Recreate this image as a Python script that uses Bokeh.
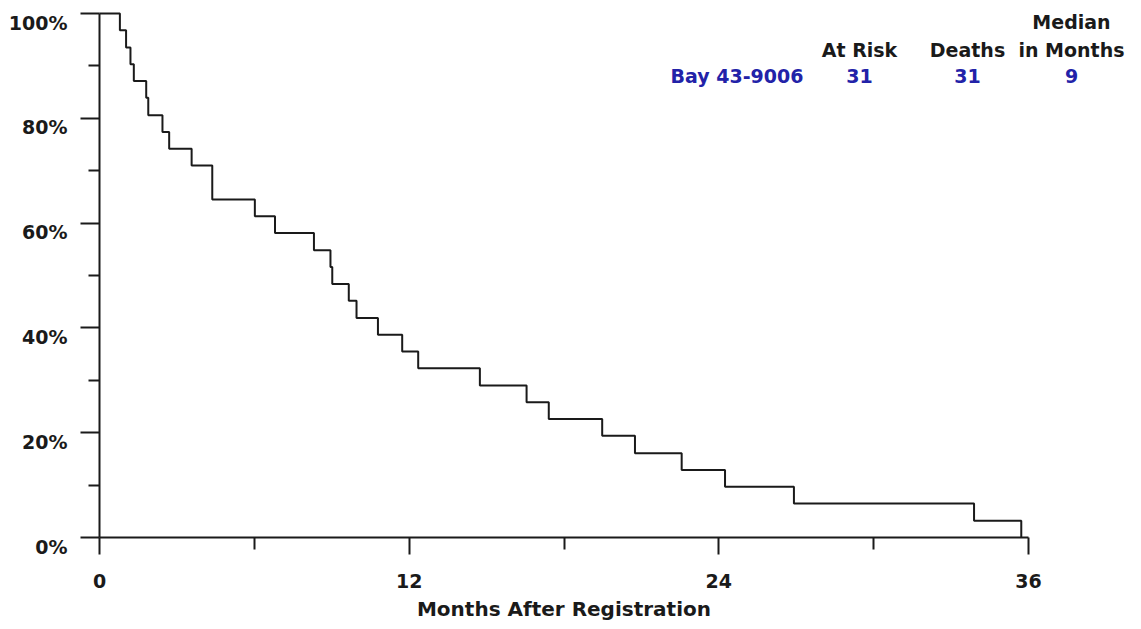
from bokeh.plotting import figure
from bokeh.models import Range1d, FixedTicker, Label, CustomJSTickFormatter
from bokeh.embed import file_html
from bokeh.resources import INLINE

# ---- data (Kaplan-Meier estimate, n = 31) ----
months = [0, 0.79, 1.03, 1.20, 1.33, 1.81, 1.89, 2.44, 2.70, 3.57,
          4.37, 6.02, 6.80, 8.31, 8.95, 9.02, 9.66, 9.96, 10.79, 11.73,
          12.35, 14.74, 16.55, 17.41, 19.48, 20.75, 22.56, 24.24, 26.91, 33.89,
          35.72]
survival = [100, 96.8, 93.5, 90.3, 87.1, 83.9, 80.6, 77.4, 74.2, 71.0,
            64.5, 61.3, 58.1, 54.8, 51.6, 48.4, 45.2, 41.9, 38.7, 35.5,
            32.3, 29.0, 25.8, 22.6, 19.4, 16.1, 12.9, 9.7, 6.5, 3.2,
            0]

x_major = [0, 12, 24, 36]
x_minor = [6, 18, 30]
y_major = [0, 20, 40, 60, 80, 100]
y_minor = [10, 30, 50, 70, 90]
y_labels = ["0%", "20%", "40%", "60%", "80%", "100%"]

header_top = ["", "", "Median"]
header_bottom = ["At Risk", "Deaths", "in Months"]
group_name = "Bay 43-9006"
group_values = ["31", "31", "9"]

FONT = "DejaVu Sans"
INK = "#1a1a1a"
BLUE = "#2222a8"

# ---- layout: pixel positions of the data box on the canvas ----
W, H = 1132, 624
PX_X0, PX_X36 = 99, 1028
PY_Y0, PY_Y100 = 537, 13
ppm = (PX_X36 - PX_X0) / 36.0
ppp = (PY_Y0 - PY_Y100) / 100.0
x_start = -PX_X0 / ppm
x_end = (W - PX_X0) / ppm
y_end = 100 + PY_Y100 / ppp
y_start = -(H - PY_Y0) / ppp

def dx(px):
    return (px - PX_X0) / ppm

def dy(py):
    return (PY_Y0 - py) / ppp

p = figure(width=W, height=H, output_backend="svg", toolbar_location=None,
           x_range=Range1d(x_start, x_end), y_range=Range1d(y_start, y_end),
           min_border=0)
p.outline_line_color = None
p.grid.visible = False
p.background_fill_color = "white"
p.border_fill_color = "white"

p.step(months, survival, mode="after", line_width=2, line_color=INK)

# x axis
xa = p.xaxis[0]
xa.fixed_location = 0
xa.bounds = (0, 36)
xa.ticker = FixedTicker(ticks=x_major, minor_ticks=x_minor)
xa.axis_line_width = 2
xa.axis_line_color = INK
xa.major_tick_line_width = 2
xa.major_tick_line_color = INK
xa.minor_tick_line_width = 2
xa.minor_tick_line_color = INK
xa.major_tick_in = 0
xa.major_tick_out = 17
xa.minor_tick_in = 0
xa.minor_tick_out = 12
xa.major_label_text_font = FONT
xa.major_label_text_font_style = "bold"
xa.major_label_text_font_size = "19px"
xa.major_label_text_color = INK
xa.major_label_standoff = 19
xa.axis_label = "Months After Registration"
xa.axis_label_text_font = FONT
xa.axis_label_text_font_style = "bold"
xa.axis_label_text_font_size = "20px"
xa.axis_label_text_color = INK
xa.axis_label_standoff = 6

# y axis (tick marks only; labels drawn just under each tick)
ya = p.yaxis[0]
ya.fixed_location = 0
ya.bounds = (0, 100)
ya.ticker = FixedTicker(ticks=y_major, minor_ticks=y_minor)
ya.axis_line_width = 2
ya.axis_line_color = INK
ya.major_tick_line_width = 2
ya.major_tick_line_color = INK
ya.minor_tick_line_width = 2
ya.minor_tick_line_color = INK
ya.major_tick_in = 0
ya.major_tick_out = 19
ya.minor_tick_in = 0
ya.minor_tick_out = 11
ya.formatter = CustomJSTickFormatter(code="return ''")

for v, t in zip(y_major, y_labels):
    p.add_layout(Label(x=0, y=v, x_offset=-32, y_offset=-9, text=t,
                       text_align="right", text_baseline="middle",
                       text_font=FONT, text_font_style="bold",
                       text_font_size="19px", text_color=INK))

# summary table at top right
col_x = [859, 967, 1071]
row_y = [21, 49, 75]
TS = "19px"
for cx, t1, t2, val in zip(col_x, header_top, header_bottom, group_values):
    if t1:
        p.add_layout(Label(x=dx(cx), y=dy(row_y[0]), text=t1, text_align="center",
                           text_baseline="middle", text_font=FONT, text_font_style="bold",
                           text_font_size=TS, text_color=INK))
    p.add_layout(Label(x=dx(cx), y=dy(row_y[1]), text=t2, text_align="center",
                       text_baseline="middle", text_font=FONT, text_font_style="bold",
                       text_font_size=TS, text_color=INK))
    p.add_layout(Label(x=dx(cx), y=dy(row_y[2]), text=val, text_align="center",
                       text_baseline="middle", text_font=FONT, text_font_style="bold",
                       text_font_size=TS, text_color=BLUE))
p.add_layout(Label(x=dx(803), y=dy(row_y[2]), text=group_name, text_align="right",
                   text_baseline="middle", text_font=FONT, text_font_style="bold",
                   text_font_size=TS, text_color=BLUE))

open("out.html", "w").write(file_html(p, INLINE))
